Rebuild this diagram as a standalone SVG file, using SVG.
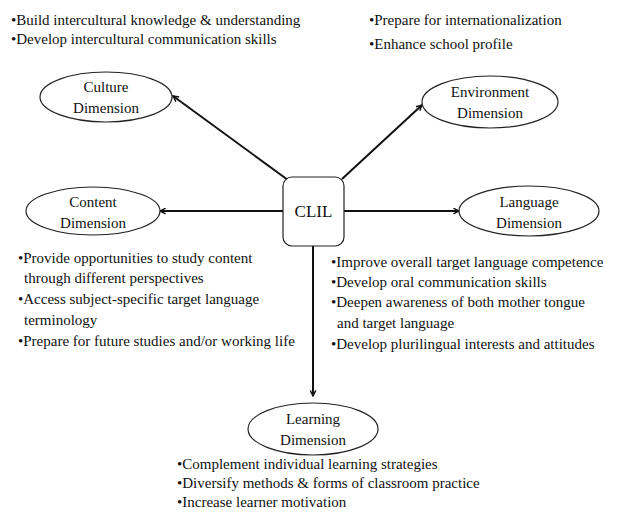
<svg xmlns="http://www.w3.org/2000/svg" width="619" height="515" viewBox="0 0 619 515">
<style>
text{font-family:"Liberation Serif","Times New Roman",serif;font-size:15px;fill:#111}
.lbl{text-anchor:middle}
.dim{fill:#fff;stroke:#222;stroke-width:1.2}
.conn{stroke:#111;stroke-width:2;fill:none}
</style>
<defs>
<marker id="ah" viewBox="0 0 10 10" refX="9" refY="5" markerWidth="7" markerHeight="7" orient="auto" markerUnits="userSpaceOnUse">
<path d="M1,1 L9,5 L1,9" fill="none" stroke="#111" stroke-width="2"/>
</marker>
</defs>
<rect width="619" height="515" fill="#fff"/>
<g id="connectors">
<line class="conn" x1="288" y1="180" x2="173" y2="96" marker-end="url(#ah)"/>
<line class="conn" x1="342" y1="179" x2="422" y2="105" marker-end="url(#ah)"/>
<line class="conn" x1="283" y1="211" x2="160" y2="211" marker-end="url(#ah)"/>
<line class="conn" x1="344" y1="211" x2="459" y2="211" marker-end="url(#ah)"/>
<line class="conn" x1="313" y1="246" x2="313" y2="396" marker-end="url(#ah)"/>
</g>
<g id="clil">
<rect x="283" y="177" width="61" height="69" rx="9" fill="#fff" stroke="#222" stroke-width="1.2"/>
<text class="lbl" x="313.5" y="217" style="font-size:17px">CLIL</text>
</g>
<g id="culture">
<ellipse class="dim" cx="106" cy="97" rx="66" ry="25"/>
<text class="lbl" x="106" y="92">Culture</text>
<text class="lbl" x="106" y="113">Dimension</text>
</g>
<g id="environment">
<ellipse class="dim" cx="490" cy="102" rx="68" ry="26"/>
<text class="lbl" x="490" y="97">Environment</text>
<text class="lbl" x="490" y="118">Dimension</text>
</g>
<g id="content">
<ellipse class="dim" cx="93" cy="211" rx="67" ry="24"/>
<text class="lbl" x="93" y="207">Content</text>
<text class="lbl" x="93" y="228">Dimension</text>
</g>
<g id="language">
<ellipse class="dim" cx="529" cy="211" rx="70" ry="25"/>
<text class="lbl" x="529" y="207">Language</text>
<text class="lbl" x="529" y="228">Dimension</text>
</g>
<g id="learning">
<ellipse class="dim" cx="313" cy="429" rx="65" ry="26"/>
<text class="lbl" x="313" y="424">Learning</text>
<text class="lbl" x="313" y="445">Dimension</text>
</g>
<g id="culture-notes">
<text x="11" y="25">•Build intercultural  knowledge &amp; understanding</text>
<text x="11" y="44">•Develop intercultural  communication  skills</text>
</g>
<g id="environment-notes">
<text x="369" y="25">•Prepare for internationalization</text>
<text x="369" y="49">•Enhance school profile</text>
</g>
<g id="content-notes">
<text x="18" y="263">•Provide opportunities  to study content</text>
<text x="24" y="283">through different perspectives</text>
<text x="18" y="304">•Access subject-specific  target language</text>
<text x="24" y="325">terminology</text>
<text x="18" y="346">•Prepare for future studies  and/or working life</text>
</g>
<g id="language-notes">
<text x="331" y="267">•Improve overall  target language  competence</text>
<text x="331" y="287">•Develop oral communication  skills</text>
<text x="331" y="307">•Deepen awareness of both mother tongue</text>
<text x="337" y="328">and target language</text>
<text x="331" y="349">•Develop plurilingual  interests  and attitudes</text>
</g>
<g id="learning-notes">
<text x="177" y="469">•Complement individual  learning  strategies</text>
<text x="177" y="488">•Diversify methods &amp; forms of classroom practice</text>
<text x="177" y="507">•Increase learner motivation</text>
</g>
</svg>
